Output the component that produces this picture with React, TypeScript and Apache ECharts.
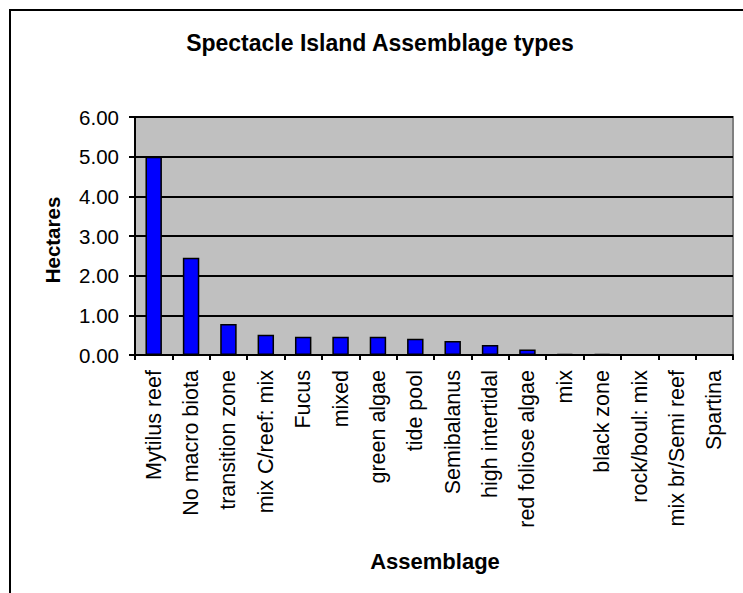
import React, { useEffect, useRef } from "react";
import * as echarts from "echarts";

const categories = [
  "Mytilus reef",
  "No macro biota",
  "transition zone",
  "mix C/reef: mix",
  "Fucus",
  "mixed",
  "green algae",
  "tide pool",
  "Semibalanus",
  "high intertidal",
  "red foliose algae",
  "mix",
  "black zone",
  "rock/boul: mix",
  "mix br/Semi reef",
  "Spartina",
];
const hectares = [5.0, 2.45, 0.78, 0.51, 0.46, 0.46, 0.46, 0.41, 0.35, 0.25, 0.14, 0.03, 0.03, 0.0, 0.0, 0.0];
const yTicks = [0, 1, 2, 3, 4, 5, 6];

const FONT = "'Liberation Sans', Arial, sans-serif";

export default function App() {
  const ref = useRef<HTMLDivElement>(null);
  useEffect(() => {
    if (!ref.current) return;
    const chart = echarts.init(ref.current, null, { renderer: "svg" });
    chart.setOption({
      animation: false,
      backgroundColor: "#ffffff",
      textStyle: { fontFamily: FONT },
      grid: {
        left: 135,
        top: 117,
        width: 598,
        height: 238,
        show: true,
        backgroundColor: "#C0C0C0",
        borderColor: "#808080",
        borderWidth: 2,
      },
      xAxis: {
        type: "category",
        data: categories,
        axisLine: { lineStyle: { color: "#000", width: 2 } },
        axisTick: { show: true, alignWithLabel: false, length: 5, lineStyle: { color: "#000", width: 2 } },
        axisLabel: {
          rotate: 90,
          interval: 0,
          fontSize: 21.5,
          color: "#000",
          fontFamily: FONT,
          margin: 15,
        },
      },
      yAxis: {
        type: "value",
        min: yTicks[0],
        max: yTicks[yTicks.length - 1],
        interval: 1,
        axisLine: { show: true, lineStyle: { color: "#000", width: 2 } },
        axisTick: { show: true, length: 6, lineStyle: { color: "#000", width: 2 } },
        axisLabel: {
          fontSize: 20.5,
          color: "#000",
          fontFamily: FONT,
          margin: 16,
          formatter: (v: number) => v.toFixed(2),
        },
        splitLine: { show: true, lineStyle: { color: "#000", width: 2 } },
      },
      series: [
        {
          type: "bar",
          data: hectares,
          barWidth: "44%",
          itemStyle: { color: "#0000FF", borderColor: "#000", borderWidth: 1.5 },
        },
      ],
      graphic: [
        {
          type: "rect",
          shape: { x: 10, y: 10, width: 900, height: 800 },
          style: { fill: "none", stroke: "#000", lineWidth: 2 },
          silent: true,
        },
        {
          type: "text",
          x: 380,
          y: 43,
          style: {
            text: "Spectacle Island Assemblage types",
            font: `bold 23px ${FONT}`,
            fill: "#000",
            textAlign: "center",
            textVerticalAlign: "middle",
          },
        },
        {
          type: "text",
          x: 52,
          y: 240,
          rotation: Math.PI / 2,
          style: {
            text: "Hectares",
            font: `bold 20.5px ${FONT}`,
            fill: "#000",
            textAlign: "center",
            textVerticalAlign: "middle",
          },
        },
        {
          type: "text",
          x: 435,
          y: 561,
          style: {
            text: "Assemblage",
            font: `bold 22px ${FONT}`,
            fill: "#000",
            textAlign: "center",
            textVerticalAlign: "middle",
          },
        },
      ],
    });
    return () => chart.dispose();
  }, []);
  return (
    <div
      ref={ref}
      style={{ position: "fixed", left: 0, top: 0, width: 743, height: 593 }}
    />
  );
}
